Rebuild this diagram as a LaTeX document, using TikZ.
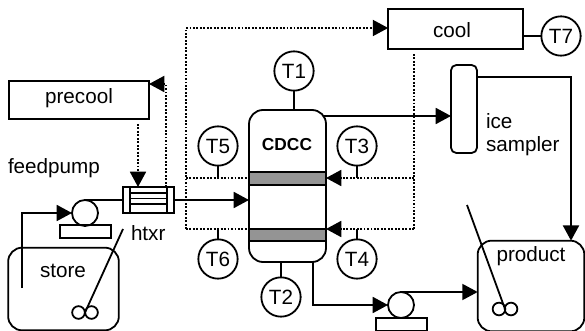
\documentclass[tikz,border=0pt]{standalone}
\usepackage{fontspec}
\setmainfont{Liberation Sans}
\usetikzlibrary{arrows.meta,calc}
\tikzset{
  x=0.75pt,y=-0.75pt,
  every node/.style={font=\fontsize{15.5pt}{18pt}\selectfont,text=black},
  ln/.style={line width=1.35pt,black},
  boxn/.style={ln,draw,rectangle,inner sep=0pt,outer sep=0pt},
  probe/.style={ln,draw,circle,fill=white,inner sep=0pt,outer sep=0pt,minimum size=29.5pt},
  lbl/.style={inner sep=0pt,outer sep=0pt},
  tipa/.style={-{Triangle[length=11.5pt,width=12pt]}},
  pipe/.style={ln,tipa},
  sig/.style={line width=1.4pt,black,dash pattern=on 1.4pt off 1.2pt},
  sigtip/.style={sig,tipa},
  band/.style={ln,draw,fill=black!42,rectangle,inner sep=0pt,outer sep=0pt,minimum width=57.75pt,minimum height=9.5pt},
  ring/.style={ln,draw,circle,inner sep=0pt,outer sep=0pt,minimum size=9.5pt},
  pumpc/.style={ln,draw,circle,inner sep=0pt,outer sep=0pt,minimum size=19.5pt},
  pumpb/.style={ln,draw,rectangle,inner sep=0pt,outer sep=0pt,minimum width=38pt,minimum height=9.7pt},
}
\begin{document}
\begin{tikzpicture}
\useasboundingbox (0,0) rectangle (585,331);
% vessels and boxes
\node[boxn,minimum width=105pt,minimum height=29pt] (precool) at (79,100) {};
\node[lbl] (precooltxt) at (79,98) {precool};
\node[boxn,minimum width=101pt,minimum height=30pt] (cool) at (455.5,29) {};
\node[lbl] (cooltxt) at (452,30) {cool};
\node[boxn,rounded corners=10.5pt,minimum width=83pt,minimum height=62pt] (store) at (63.5,289) {};
\node[lbl] (storetxt) at (63,271) {store};
\node[boxn,rounded corners=10.5pt,minimum width=80pt,minimum height=68pt] (product) at (531,286) {};
\node[lbl] (producttxt) at (531,256) {product};
\node[boxn,rounded corners=10.5pt,minimum width=57.75pt,minimum height=114pt] (col) at (287.5,186) {};
\node[band] (band1) at (287.5,178.5) {};
\node[band] (band2) at (287.5,235) {};
\node[lbl,font=\fontsize{13pt}{15pt}\selectfont\bfseries] (cdcc) at (287,145) {CDCC};
\node[boxn,rounded corners=4pt,minimum width=19.5pt,minimum height=66pt] (ice) at (464,109) {};
\node[lbl,anchor=west] (icetxt) at (486,121) {ice};
\node[lbl,anchor=west] (samplertxt) at (486,146) {sampler};
\node[lbl,anchor=west] (feedtxt) at (8,168) {feedpump};
\node[lbl,anchor=west] (htxrtxt) at (131,233) {htxr};
% heat exchanger
\node[boxn,minimum width=38pt,minimum height=19.5pt] (htxr) at (148.5,200) {};
\coordinate (hl) at (130,187); \coordinate (hr) at (167,187);
\draw[ln] (hl) -- (hl |- htxr.south) (hr) -- (hr |- htxr.south);
\foreach \yy/\nm in {193/a,198.5/b,204/c}{
  \coordinate (h\nm) at (130,\yy);
  \draw[ln] (h\nm) -- (h\nm -| hr);
}
% pumps
\node[pumpc] (p1) at (85,213) {};
\node[pumpb] (p1b) at (85.5,231.5) {};
\node[pumpc] (p2) at (401,305) {};
\node[pumpb] (p2b) at (401.5,324.5) {};
% stirrers
\node[ring] (r1a) at (78.5,312.5) {};
\node[ring] (r1b) at (91.5,312.5) {};
\coordinate (s1) at (123,229);
\draw[ln] (s1) -- ($(r1a.east)!0.5!(r1b.west)$);
\node[ring] (r2a) at (499,309) {};
\node[ring] (r2b) at (511,309) {};
\coordinate (s2) at (467,205);
\draw[ln] (s2) -- ($(r2a.east)!0.5!(r2b.west)$);
% probes
\node[probe] (T1) at (294,71) {T1};
\node[probe] (T2) at (281,297) {T2};
\node[probe] (T3) at (357,146) {T3};
\node[probe] (T4) at (357,259) {T4};
\node[probe] (T5) at (218,146) {T5};
\node[probe] (T6) at (218,259) {T6};
\node[probe] (T7) at (561,36) {T7};
\draw[ln] (T1.south) -- (T1.south |- col.north);
\draw[ln] (T2.north) -- (T2.north |- col.south);
\draw[ln] (T7.west) -- (T7.west -| cool.east);
% signal lines
\coordinate (dr) at (414,229);
\coordinate (dm) at (414,178);
\coordinate (dl) at (186,229);
\coordinate (dn) at (186,178);
\coordinate (dtop) at (186,28);
\coordinate (drs) at (414,54);
\coordinate (up) at (166,84);
\coordinate (pcd) at (138,124);
\draw[sig] (drs) -- (dr);
\draw[sigtip] (dr) -- (dr -| col.east);
\draw[sigtip] (dm) -- (dm -| col.east);
\draw[sigtip] (dl) -- (dtop) -- (dtop -| cool.west);
\draw[sig] (dl) -- (dl -| col.west);
\draw[sig] (dn) -- (dn -| col.west);
\draw[ln] (T5.south) -- (T5.south |- dn);
\draw[ln] (T3.south) -- (T3.south |- dn);
\draw[ln] (T6.north) -- (T6.north |- dl);
\draw[ln] (T4.north) -- (T4.north |- dl);
\draw[sigtip] (up |- htxr.north) -- (up) -- (up -| precool.east);
\draw[sigtip] (pcd) -- (pcd |- htxr.north);
% process lines
\coordinate (fs) at (22,288);
\draw[pipe] (fs) |- (p1.west);
\draw[ln] (p1.north) -- (p1.north -| htxr.west);
\draw[pipe] (htxr.east) -- (htxr.east -| col.west);
\coordinate (to) at (323,116);
\draw[pipe] (to) -- (to -| ice.west);
\coordinate (iout) at (571,77);
\draw[ln,line width=1.7pt,tipa] (iout -| ice.east) -- (iout) -- (iout |- product.north);
\coordinate (bo) at (313,262);
\draw[pipe] (bo) |- (p2.west);
\draw[pipe] (p2.north) -- (p2.north -| product.west);
\end{tikzpicture}
\end{document}
